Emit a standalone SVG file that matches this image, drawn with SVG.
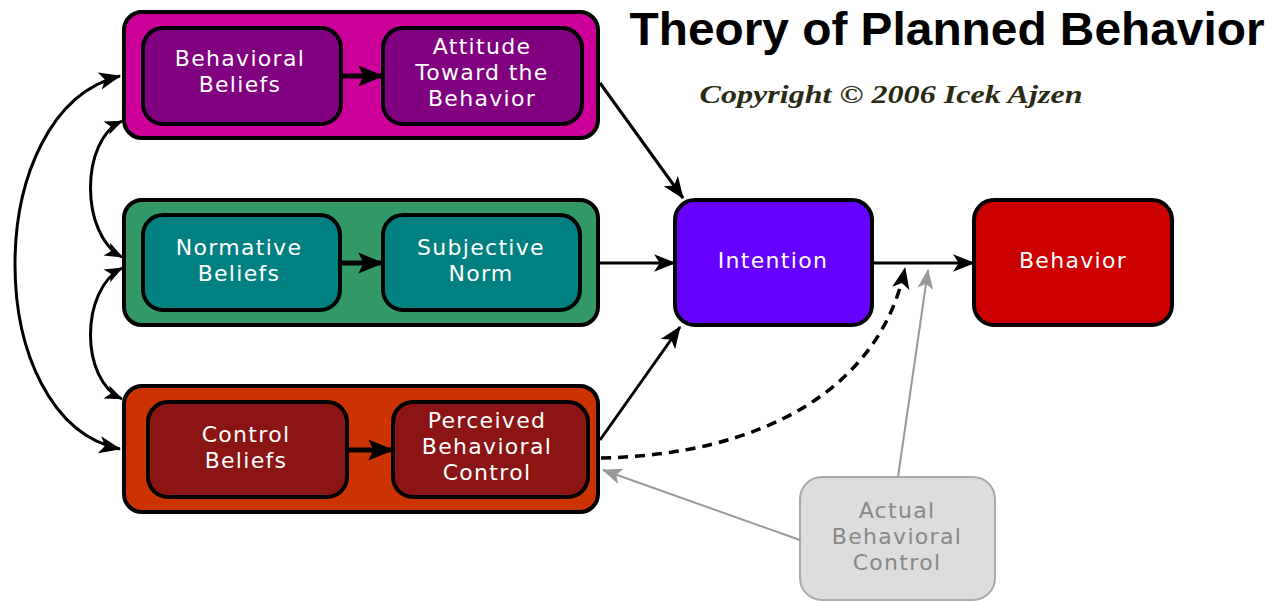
<svg xmlns="http://www.w3.org/2000/svg" width="1270" height="604" viewBox="0 0 1270 604">
<defs>
<style>
.outer{stroke:#000;stroke-width:4}
.inner{stroke:#000;stroke-width:4}
.lbl{font-family:"DejaVu Sans",sans-serif;font-size:22px;letter-spacing:1.3px;fill:#fff;text-anchor:middle}
.glbl{font-family:"DejaVu Sans",sans-serif;font-size:22px;letter-spacing:1.3px;fill:#888;text-anchor:middle}
.conn{fill:none;stroke:#000;stroke-width:3}
.thick{fill:none;stroke:#000;stroke-width:5}
.dash{fill:none;stroke:#000;stroke-width:3.5;stroke-dasharray:10 7}
.gray{fill:none;stroke:#999;stroke-width:2}
</style>
<marker id="ah" viewBox="0 0 20 16" refX="19" refY="8" markerWidth="22" markerHeight="18" markerUnits="userSpaceOnUse" orient="auto-start-reverse"><path d="M0,0 L20,8 L0,16 L5,8 Z" fill="#000"/></marker>
<marker id="ahb" viewBox="0 0 20 16" refX="19" refY="8" markerWidth="26" markerHeight="24" markerUnits="userSpaceOnUse" orient="auto"><path d="M0,0 L20,8 L0,16 L4,8 Z" fill="#000"/></marker>
<marker id="ahs" viewBox="0 0 20 16" refX="19" refY="8" markerWidth="18" markerHeight="15" markerUnits="userSpaceOnUse" orient="auto-start-reverse"><path d="M0,0 L20,8 L0,16 L5,8 Z" fill="#000"/></marker>
<marker id="ahg" viewBox="0 0 20 16" refX="19" refY="8" markerWidth="20" markerHeight="16" markerUnits="userSpaceOnUse" orient="auto"><path d="M0,0 L20,8 L0,16 L5,8 Z" fill="#999"/></marker>
</defs>
<rect width="1270" height="604" fill="#fff"/>

<g id="attitude-group">
<rect class="outer" x="124" y="12" width="474" height="126" rx="18" fill="#CC0099"/>
</g>
<g id="behavioral-beliefs">
<rect class="inner" x="143" y="28" width="198" height="96" rx="20" fill="#800080"/>
<text class="lbl" x="240" y="66">Behavioral</text>
<text class="lbl" x="240" y="92">Beliefs</text>
</g>
<g id="attitude">
<rect class="inner" x="383" y="28" width="199" height="96" rx="20" fill="#800080"/>
<text class="lbl" x="482" y="54">Attitude</text>
<text class="lbl" x="482" y="80">Toward the</text>
<text class="lbl" x="482" y="106">Behavior</text>
</g>

<g id="norm-group">
<rect class="outer" x="124" y="200" width="474" height="125" rx="18" fill="#339966"/>
</g>
<g id="normative-beliefs">
<rect class="inner" x="143" y="215" width="197" height="95" rx="20" fill="#008080"/>
<text class="lbl" x="239" y="255">Normative</text>
<text class="lbl" x="239" y="281">Beliefs</text>
</g>
<g id="subjective-norm">
<rect class="inner" x="383" y="215" width="197" height="95" rx="20" fill="#008080"/>
<text class="lbl" x="481" y="255">Subjective</text>
<text class="lbl" x="481" y="281">Norm</text>
</g>

<g id="control-group">
<rect class="outer" x="124" y="386" width="474" height="126" rx="18" fill="#CC3300"/>
</g>
<g id="control-beliefs">
<rect class="inner" x="148" y="402" width="199" height="95" rx="20" fill="#8B1414"/>
<text class="lbl" x="246" y="442">Control</text>
<text class="lbl" x="246" y="468">Beliefs</text>
</g>
<g id="perceived-control">
<rect class="inner" x="393" y="402" width="195" height="95" rx="20" fill="#8B1414"/>
<text class="lbl" x="487" y="428">Perceived</text>
<text class="lbl" x="487" y="454">Behavioral</text>
<text class="lbl" x="487" y="480">Control</text>
</g>

<g id="intention">
<rect class="inner" x="675" y="200" width="197" height="125" rx="20" fill="#6600FF"/>
<text class="lbl" x="773" y="268">Intention</text>
</g>
<g id="behavior">
<rect class="inner" x="974" y="200" width="198" height="125" rx="20" fill="#CC0000"/>
<text class="lbl" x="1073" y="268">Behavior</text>
</g>
<g id="actual-control">
<rect x="800" y="477" width="195" height="123" rx="22" fill="#DDDDDD" stroke="#aaa" stroke-width="2"/>
<text class="glbl" x="897" y="518">Actual</text>
<text class="glbl" x="897" y="544">Behavioral</text>
<text class="glbl" x="897" y="570">Control</text>
</g>

<g id="connectors">
<path class="thick" d="M341,76 L383,76" marker-end="url(#ahb)"/>
<path class="thick" d="M340,263 L383,263" marker-end="url(#ahb)"/>
<path class="thick" d="M347,450 L393,450" marker-end="url(#ahb)"/>
<path class="conn" d="M600,83 L683,198" marker-end="url(#ah)"/>
<path class="conn" d="M600,263 L675,263" marker-end="url(#ah)"/>
<path class="conn" d="M600,440 L680,327" marker-end="url(#ah)"/>
<path class="conn" d="M874,263 L974,263" marker-end="url(#ah)"/>
<path class="dash" d="M601,458 C760,455 880,390 905,268" marker-end="url(#ah)"/>
<path class="gray" d="M898,477 L928,270" marker-end="url(#ahg)"/>
<path class="gray" d="M800,540 L603,470" marker-end="url(#ahg)"/>
<path class="conn" d="M120,76 C-20,110 -20,420 120,449" marker-start="url(#ah)" marker-end="url(#ah)"/>
<path class="conn" d="M122,121 C80,140 80,235 122,257" marker-start="url(#ahs)" marker-end="url(#ahs)"/>
<path class="conn" d="M122,268 C80,290 80,380 122,399" marker-start="url(#ahs)" marker-end="url(#ahs)"/>
</g>

<g id="title">
<text x="947" y="45" font-family="Liberation Sans, Arial, sans-serif" font-weight="bold" font-size="46" text-anchor="middle" textLength="635" lengthAdjust="spacingAndGlyphs" fill="#000">Theory of Planned Behavior</text>
<text x="891" y="103" font-family="Liberation Serif, serif" font-style="italic" font-weight="bold" font-size="26" text-anchor="middle" textLength="383" lengthAdjust="spacingAndGlyphs" fill="#2b2b14">Copyright © 2006 Icek Ajzen</text>
</g>
</svg>
